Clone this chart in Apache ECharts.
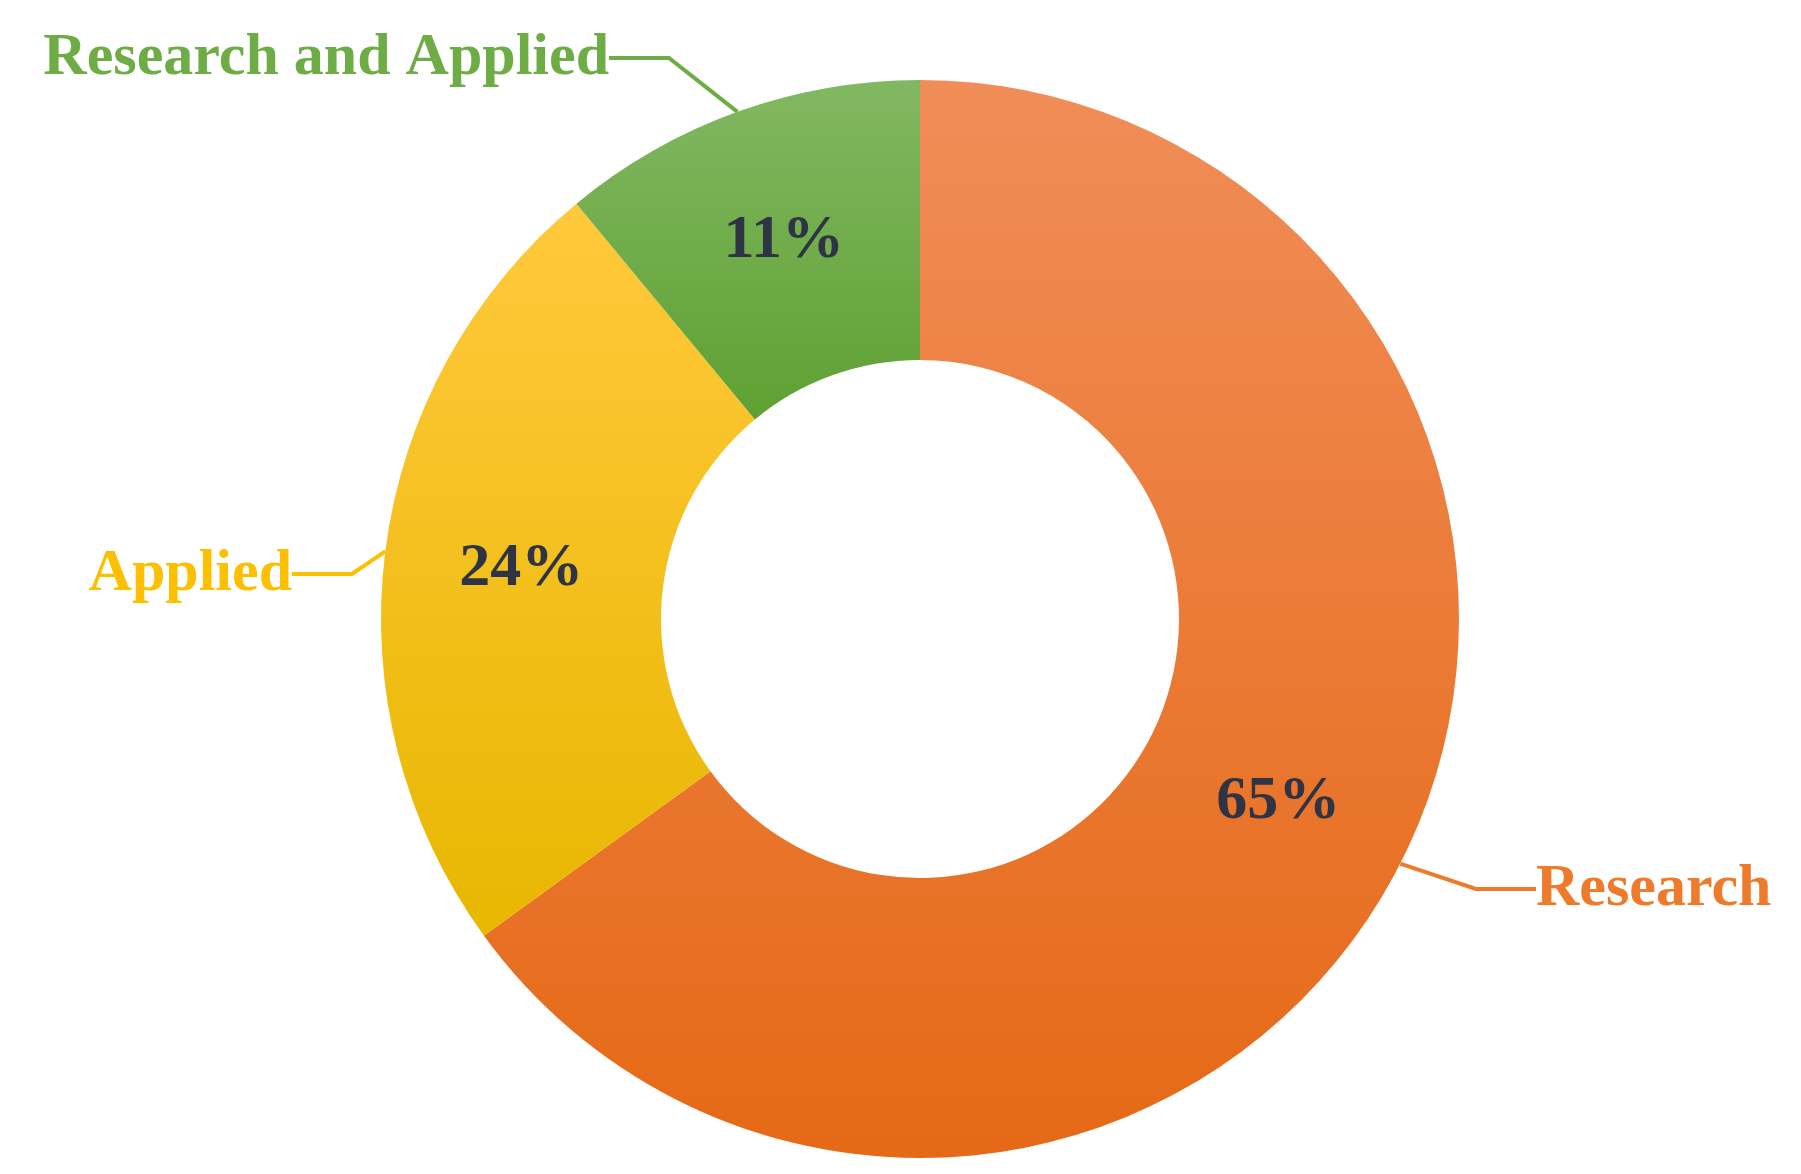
<!DOCTYPE html>
<html>
<head>
<meta charset="utf-8">
<script src="https://cdn.jsdelivr.net/npm/echarts@6/dist/echarts.min.js"></script>
<style>html,body{margin:0;background:#fff}#main{width:1801px;height:1174px}</style>
</head>
<body>
<div id="main"></div>
<script>
var categories = ['Research', 'Applied', 'Research and Applied'];
var shares = [65, 24, 11];
var topColors = ['#F18D58', '#FFC93C', '#82B862'];
var bottomColors = ['#E56916', '#E8B700', '#5FA032'];
var labelColors = ['#EE7B2B', '#FCC000', '#6EAC45'];

// where the outside labels sit
var labelSpots = [
  { x: 1536, y: 889, align: 'left' },
  { x: 292, y: 574, align: 'right' },
  { x: 609, y: 58, align: 'right' }
];

var font = '"Liberation Serif", "Times New Roman", serif';

function grad(i) {
  return new echarts.graphic.LinearGradient(0, 0, 0, 1, [
    { offset: 0, color: topColors[i] },
    { offset: 1, color: bottomColors[i] }
  ]);
}

var chart = echarts.init(document.getElementById('main'));
chart.setOption({
  animation: false,
  series: [{
    type: 'pie',
    center: [920, 619],
    radius: [259, 539],
    startAngle: 90,
    clockwise: true,
    silent: true,
    data: categories.map(function (c, i) {
      return { name: c, value: shares[i], itemStyle: { color: grad(i) } };
    }),
    label: {
      position: 'inside',
      formatter: '{c}%',
      fontFamily: font, fontWeight: 'bold', fontSize: 62, color: '#2E3443'
    },
    labelLine: { show: false }
  }, {
    type: 'pie',
    center: [920, 619],
    radius: [259, 539],
    startAngle: 90,
    clockwise: true,
    silent: true,
    itemStyle: { color: 'rgba(0,0,0,0)' },
    data: categories.map(function (c, i) {
      return {
        name: c, value: shares[i],
        label: { color: labelColors[i] },
        labelLine: { lineStyle: { color: labelColors[i], width: 4 } }
      };
    }),
    label: {
      position: 'outside',
      formatter: '{b}',
      fontFamily: font, fontWeight: 'bold', fontSize: 60
    },
    labelLine: { show: true, length: 40, length2: 60, smooth: false },
    labelLayout: function (p) {
      var s = labelSpots[p.dataIndex];
      return { x: s.x, y: s.y, align: s.align, verticalAlign: 'middle' };
    }
  }]
});
</script>
</body>
</html>
